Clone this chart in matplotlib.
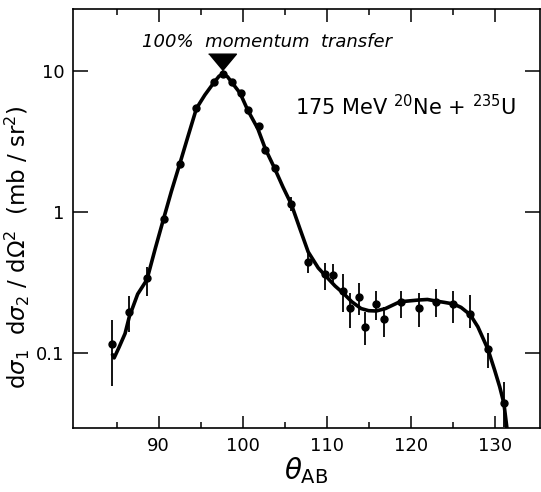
import matplotlib.pyplot as plt
import numpy as np
from matplotlib.ticker import NullLocator, FixedLocator

# data
theta = [84.4, 86.5, 88.6, 90.6, 92.5, 94.5, 96.6, 97.7, 98.7, 99.8, 100.6,
         101.9, 102.7, 103.8, 105.8, 107.8, 109.8, 110.8, 111.9, 112.8, 113.9,
         114.6, 115.9, 116.8, 118.8, 121.0, 123.0, 125.1, 127.1, 129.2, 131.1]
dsig = [0.115, 0.194, 0.337, 0.885, 2.18, 5.43, 8.31, 9.48, 8.31, 6.95, 5.28,
        4.09, 2.75, 2.04, 1.13, 0.438, 0.361, 0.357, 0.274, 0.209, 0.250,
        0.153, 0.221, 0.173, 0.228, 0.207, 0.230, 0.222, 0.190, 0.106, 0.0438]
err_lo = [0.058, 0.141, 0.254, 0.885, 2.18, 5.43, 8.31, 9.48, 8.31, 6.95, 5.28,
          4.09, 2.75, 2.04, 1.01, 0.370, 0.279, 0.303, 0.195, 0.151, 0.185,
          0.113, 0.171, 0.130, 0.178, 0.153, 0.180, 0.162, 0.149, 0.0775, 0.0298]
err_hi = [0.170, 0.254, 0.408, 0.885, 2.18, 5.43, 8.31, 9.48, 8.31, 6.95, 5.28,
          4.09, 2.75, 2.04, 1.27, 0.513, 0.436, 0.426, 0.362, 0.264, 0.314,
          0.195, 0.276, 0.212, 0.276, 0.264, 0.282, 0.276, 0.257, 0.139, 0.0622]

# fitted curve
fit_theta = [84.5, 84.7, 85.3, 86.0, 86.5, 87.5, 88.6, 89.6, 90.6, 91.5, 92.5,
             93.5, 94.5, 95.5, 96.6, 97.2, 97.7, 98.2, 98.7, 99.7, 100.6, 101.8,
             102.7, 103.8, 104.8, 105.8, 106.8, 107.8, 109.0, 110.0, 111.0,
             112.0, 113.0, 114.1, 115.0, 115.9, 117.0, 118.7, 120.0, 121.0,
             122.0, 123.0, 124.0, 125.1, 126.0, 127.1, 128.0, 129.2, 130.0,
             130.6, 131.1, 131.5]
fit_dsig = [0.097, 0.092, 0.110, 0.137, 0.18, 0.261, 0.33, 0.551, 0.9, 1.39,
            2.18, 3.45, 5.43, 6.76, 8.31, 9.2, 9.48, 9.1, 8.31, 6.95, 5.28,
            3.9, 2.8, 2.04, 1.5, 1.13, 0.764, 0.52, 0.40, 0.345, 0.298,
            0.264, 0.230, 0.206, 0.199, 0.198, 0.206, 0.230, 0.234, 0.237,
            0.239, 0.233, 0.228, 0.222, 0.210, 0.186, 0.153, 0.106, 0.0753,
            0.0574, 0.0438, 0.028]

xticks = [90, 100, 110, 120, 130]
xminor = [85, 95, 105, 115, 125]
yticks = [0.1, 1, 10]
ylabels = ['0.1', '1', '10']

fig = plt.figure(figsize=(5.41, 4.92), dpi=100)
ax = fig.add_axes([73/541, 1-427.7/492, (540-73)/541, (427.7-9.3)/492])

ax.plot(fit_theta, fit_dsig, color='black', lw=2.6, solid_capstyle='round',
        solid_joinstyle='round')
d = np.array(dsig)
yerr = [d - np.array(err_lo), np.array(err_hi) - d]
ax.errorbar(theta, dsig, yerr=yerr, fmt='o', color='black', ms=5,
            elinewidth=1.3, capsize=0)

# 100% momentum transfer marker
ax.plot([97.5], [11.6], marker=[(-1, 0.6), (1, 0.6), (0, -0.6)], ms=20,
        color='black', ls='none')
ax.text(102.9, 16.1, '100%  momentum  transfer', style='italic', fontsize=13,
        ha='center', va='center')
ax.text(106.2, 4.87, r'175 MeV $^{20}$Ne + $^{235}$U', fontsize=15,
        ha='left', va='baseline')

ax.set_yscale('log')
ax.set_xlim(79.8, 135.4)
ax.set_ylim(0.0294, 27.4)

ax.set_xticks(xticks)
ax.xaxis.set_minor_locator(FixedLocator(xminor))
ax.set_yticks(yticks)
ax.set_yticklabels(ylabels)
ax.yaxis.set_minor_locator(NullLocator())

ax.tick_params(axis='x', which='major', direction='in', length=9, width=1.1,
               top=True, labelsize=13, pad=7)
ax.tick_params(axis='x', which='minor', direction='in', length=4.5, width=1.1,
               top=True)
ax.tick_params(axis='y', which='major', direction='in', length=10.5, width=1.1,
               right=True, labelsize=13, pad=6)
for s in ax.spines.values():
    s.set_linewidth(1.2)

ax.set_xlabel(r'$\theta_{\rm AB}$', fontsize=20, labelpad=0)
ax.set_ylabel(r'd$\sigma_1$  d$\sigma_2$ / d$\Omega^2$  (mb / sr$^2$)',
              fontsize=16.5)
ax.yaxis.set_label_coords(-0.087, 0.43)

fig.savefig('out.png', dpi=100)
